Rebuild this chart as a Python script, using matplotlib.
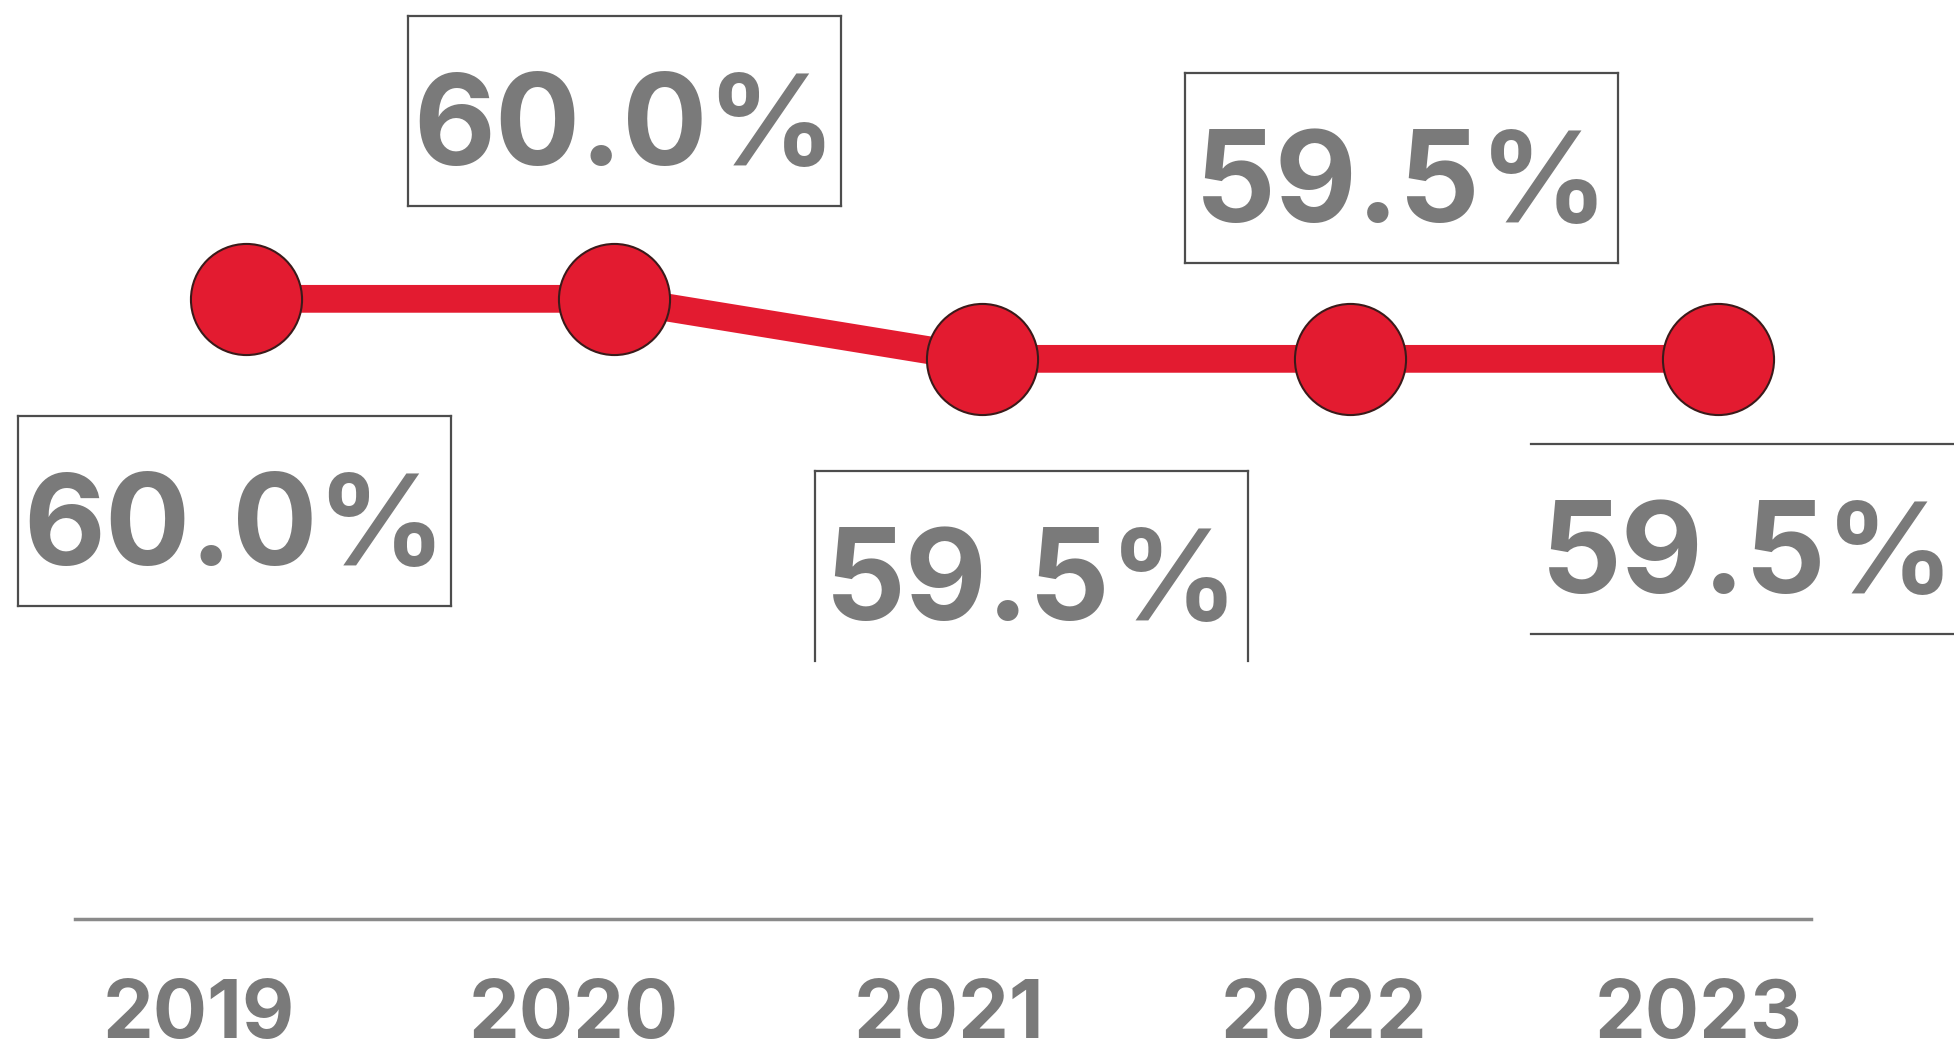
import matplotlib.pyplot as plt
from matplotlib.lines import Line2D
from matplotlib.transforms import ScaledTranslation

plt.rcParams['font.family'] = ['Inter', 'DejaVu Sans']
plt.rcParams['font.weight'] = 'bold'

# share by year, in percent
years = ['2019', '2020', '2021', '2022', '2023']
share = [60.0, 60.0, 59.5, 59.5, 59.5]

# where each value box sits relative to its point (inches) and which edges are drawn
label_offsets = [(-0.11, -2.12), (0.11, 1.88), (0.50, -2.07), (0.52, 1.91), (0.30, -1.80)]
box_sides = ['ltrb', 'ltrb', 'ltr', 'ltrb', 'tb']
box_w, box_h = 4.33, 1.90

red = '#e31b30'
grey = '#7a7a7a'

fig = plt.figure(figsize=(19.54, 10.57), dpi=100)
ax = fig.add_axes([0.0384, 0.1306, 0.8884, 0.8694])

xs = list(range(len(years)))
ax.plot(xs, share, color=red, lw=20, solid_capstyle='butt', zorder=2)
ax.plot(xs, share, 'o', ms=80, mfc=red, mec='#3b1a1a', mew=1.5, zorder=3)

ax.set_xlim(-0.464, 4.253)
ax.set_ylim(54.833, 62.49)
ax.set_xticks([])
ax.set_yticks([])
for side in ['top', 'left', 'right']:
    ax.spines[side].set_visible(False)
ax.spines['bottom'].set_color('#8a8a8a')
ax.spines['bottom'].set_linewidth(2.5)

# year labels along the baseline
yr = ax.twiny()
yr.set_xlim(-0.331, 4.299)
yr.xaxis.set_ticks_position('bottom')
yr.set_xticks(xs)
yr.set_xticklabels(years)
yr.tick_params(length=0, pad=43, labelsize=58, labelcolor=grey)
for side in yr.spines:
    yr.spines[side].set_visible(False)

# boxed value labels
for x, v, (dx, dy), sides in zip(xs, share, label_offsets, box_sides):
    tr = fig.dpi_scale_trans + ScaledTranslation(x, v, ax.transData)
    ax.text(dx, dy - 0.21, f'{v:.1f}%', transform=tr, ha='center', va='center',
            fontsize=91, color=grey)
    l, r = dx - box_w / 2, dx + box_w / 2
    b, t = dy - box_h / 2, dy + box_h / 2
    edges = {'l': ([l, l], [b, t]), 'r': ([r, r], [b, t]),
             't': ([l, r], [t, t]), 'b': ([l, r], [b, b])}
    for s in sides:
        ax.add_line(Line2D(*edges[s], transform=tr, color='#4d4d4d', lw=1.6, clip_on=False))

fig.savefig('out.png', dpi=100)
